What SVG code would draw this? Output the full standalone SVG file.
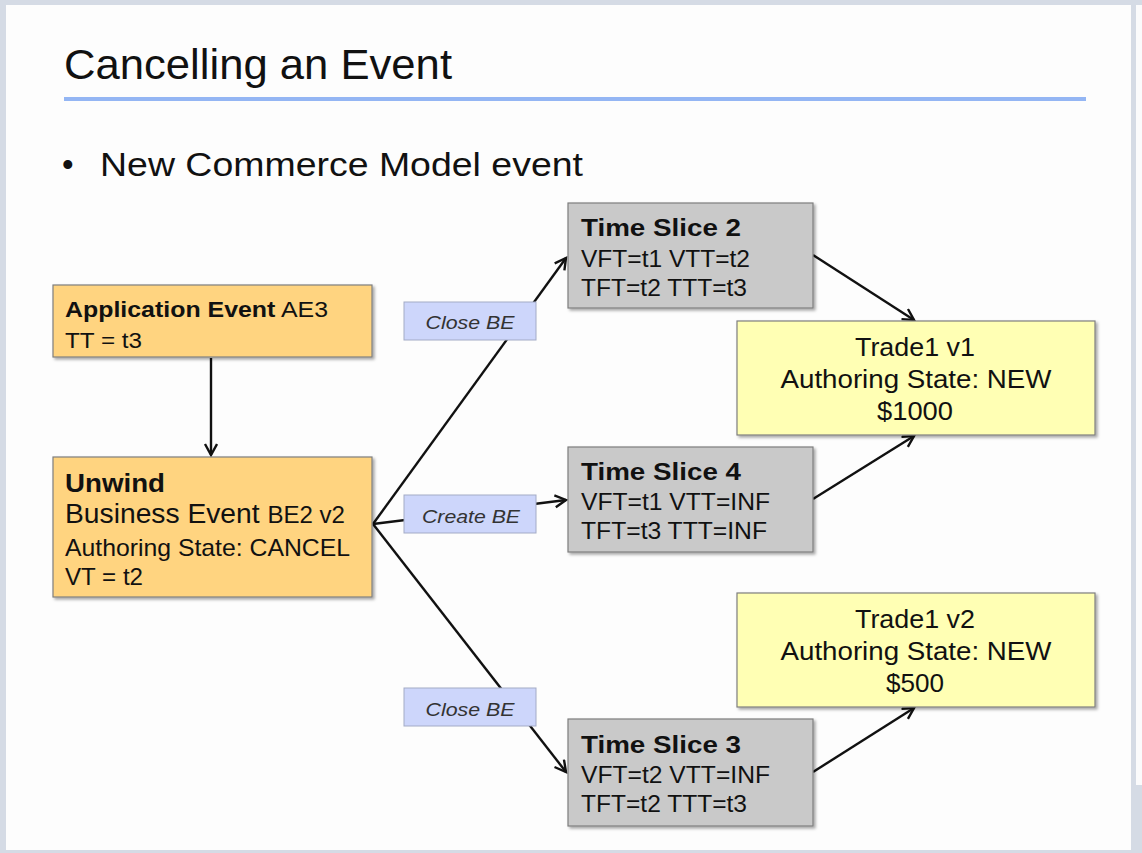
<svg xmlns="http://www.w3.org/2000/svg" width="1142" height="853" viewBox="0 0 1142 853">
<defs>
<style>
text{font-family:"Liberation Sans",Arial,Helvetica,sans-serif;fill:#111}
.box{stroke:#7f7f7f;stroke-width:1.2}
.orange{fill:#ffd480}
.gray{fill:#c9c9c9}
.yellow{fill:#ffffb4}
.lbl{fill:#cdd6fb;stroke:#a3abc6;stroke-width:1}
.lbltxt{font-style:italic;font-size:19px;fill:#333}
.b{font-weight:bold}
.conn{stroke:#111;stroke-width:2.4;fill:none;marker-end:url(#arr)}
</style>
<marker id="arr" markerUnits="userSpaceOnUse" markerWidth="16" markerHeight="16" refX="12" refY="7" orient="auto">
<path d="M1,1 L12,7 L1,13" fill="none" stroke="#111" stroke-width="2.4"/>
</marker>
<filter id="sh" x="-5%" y="-5%" width="115%" height="125%">
<feDropShadow dx="2" dy="2" stdDeviation="1.5" flood-color="#000" flood-opacity="0.35"/>
</filter>
</defs>
<rect x="0" y="0" width="1142" height="853" fill="#d5dbe5"/>
<rect x="1136" y="5" width="6" height="780" fill="#fbfbfc"/>
<rect x="6" y="5" width="1125" height="845" fill="#fdfdfd"/>
<text x="64" y="79" font-size="43" textLength="388" lengthAdjust="spacingAndGlyphs">Cancelling an Event</text>
<line x1="64" y1="99" x2="1086" y2="99" stroke="#94b6f4" stroke-width="4"/>
<text x="62" y="176" font-size="33">•</text>
<text x="100" y="176" font-size="34" textLength="483" lengthAdjust="spacingAndGlyphs">New Commerce Model event</text>

<g id="connectors">
<path class="conn" d="M211,358 L211,455"/>
<path class="conn" d="M373,524 L566,258"/>
<path class="conn" d="M373,524 L566,500"/>
<path class="conn" d="M373,524 L566,772"/>
<path class="conn" d="M813,255 L914,320"/>
<path class="conn" d="M813,499 L914,436"/>
<path class="conn" d="M813,772 L914,708"/>
</g>

<g id="app-event">
<rect class="box orange" x="53" y="285" width="319" height="72" filter="url(#sh)"/>
<text x="65" y="317" font-size="22" textLength="263" lengthAdjust="spacingAndGlyphs"><tspan class="b">Application Event</tspan> AE3</text>
<text x="65" y="348" font-size="22" textLength="77" lengthAdjust="spacingAndGlyphs">TT = t3</text>
</g>

<g id="unwind">
<rect class="box orange" x="53" y="457" width="319" height="140" filter="url(#sh)"/>
<text x="65" y="492" font-size="25" class="b" textLength="100" lengthAdjust="spacingAndGlyphs">Unwind</text>
<text x="65" y="523" font-size="27" textLength="280" lengthAdjust="spacingAndGlyphs">Business Event <tspan font-size="23">BE2 v2</tspan></text>
<text x="65" y="556" font-size="24" textLength="285" lengthAdjust="spacingAndGlyphs">Authoring State: CANCEL</text>
<text x="65" y="585" font-size="24" textLength="78" lengthAdjust="spacingAndGlyphs">VT = t2</text>
</g>

<g id="ts2">
<rect class="box gray" x="568" y="203" width="245" height="105" filter="url(#sh)"/>
<text x="581" y="236" font-size="24" class="b" textLength="160" lengthAdjust="spacingAndGlyphs">Time Slice 2</text>
<text x="581" y="267" font-size="23" textLength="169" lengthAdjust="spacingAndGlyphs">VFT=t1 VTT=t2</text>
<text x="581" y="296" font-size="23" textLength="166" lengthAdjust="spacingAndGlyphs">TFT=t2 TTT=t3</text>
</g>

<g id="ts4">
<rect class="box gray" x="568" y="447" width="245" height="105" filter="url(#sh)"/>
<text x="581" y="480" font-size="24" class="b" textLength="160" lengthAdjust="spacingAndGlyphs">Time Slice 4</text>
<text x="581" y="510" font-size="23" textLength="189" lengthAdjust="spacingAndGlyphs">VFT=t1 VTT=INF</text>
<text x="581" y="539" font-size="23" textLength="186" lengthAdjust="spacingAndGlyphs">TFT=t3 TTT=INF</text>
</g>

<g id="ts3">
<rect class="box gray" x="568" y="719" width="245" height="107" filter="url(#sh)"/>
<text x="581" y="753" font-size="24" class="b" textLength="160" lengthAdjust="spacingAndGlyphs">Time Slice 3</text>
<text x="581" y="783" font-size="23" textLength="189" lengthAdjust="spacingAndGlyphs">VFT=t2 VTT=INF</text>
<text x="581" y="812" font-size="23" textLength="166" lengthAdjust="spacingAndGlyphs">TFT=t2 TTT=t3</text>
</g>

<g id="trade1v1">
<rect class="box yellow" x="737" y="321" width="358" height="114" filter="url(#sh)"/>
<text x="915" y="356" font-size="26" text-anchor="middle" textLength="120" lengthAdjust="spacingAndGlyphs">Trade1 v1</text>
<text x="916" y="388" font-size="26" text-anchor="middle" textLength="271" lengthAdjust="spacingAndGlyphs">Authoring State: NEW</text>
<text x="915" y="420" font-size="26" text-anchor="middle" textLength="76" lengthAdjust="spacingAndGlyphs">$1000</text>
</g>

<g id="trade1v2">
<rect class="box yellow" x="737" y="593" width="358" height="114" filter="url(#sh)"/>
<text x="915" y="628" font-size="26" text-anchor="middle" textLength="120" lengthAdjust="spacingAndGlyphs">Trade1 v2</text>
<text x="916" y="660" font-size="26" text-anchor="middle" textLength="271" lengthAdjust="spacingAndGlyphs">Authoring State: NEW</text>
<text x="915" y="692" font-size="26" text-anchor="middle" textLength="58" lengthAdjust="spacingAndGlyphs">$500</text>
</g>

<g id="label-close1">
<rect class="lbl" x="404" y="302" width="132" height="38"/>
<text class="lbltxt" x="470" y="329" text-anchor="middle" textLength="89" lengthAdjust="spacingAndGlyphs">Close BE</text>
</g>
<g id="label-create">
<rect class="lbl" x="404" y="495" width="132" height="38"/>
<text class="lbltxt" x="471" y="523" text-anchor="middle" textLength="98" lengthAdjust="spacingAndGlyphs">Create BE</text>
</g>
<g id="label-close2">
<rect class="lbl" x="404" y="688" width="132" height="38"/>
<text class="lbltxt" x="470" y="716" text-anchor="middle" textLength="89" lengthAdjust="spacingAndGlyphs">Close BE</text>
</g>
</svg>
